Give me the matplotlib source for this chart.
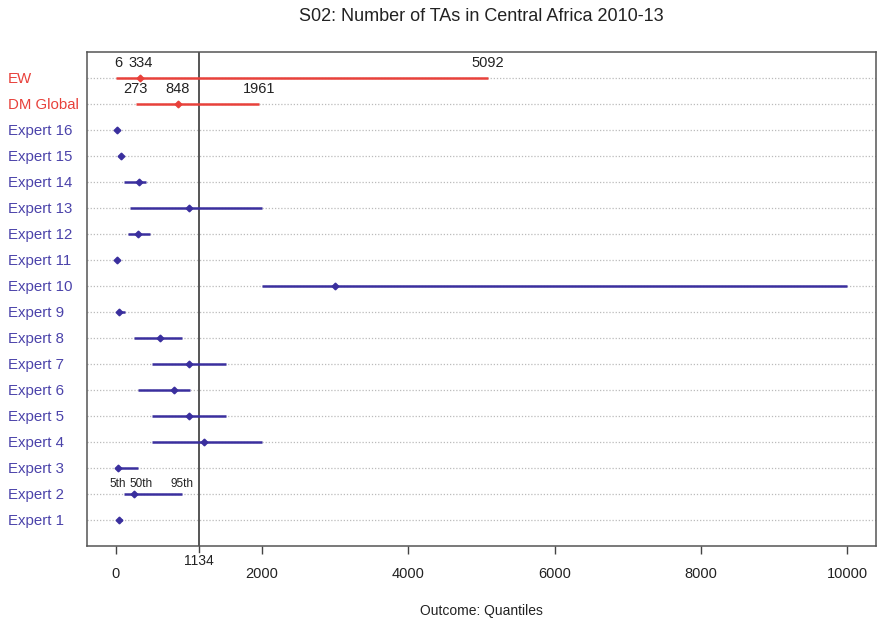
import matplotlib
matplotlib.use("Agg")
import matplotlib.pyplot as plt

plt.rcParams['font.family'] = ['Liberation Sans', 'DejaVu Sans']

# Rows from bottom to top
labels = ['Expert 1', 'Expert 2', 'Expert 3', 'Expert 4', 'Expert 5', 'Expert 6',
          'Expert 7', 'Expert 8', 'Expert 9', 'Expert 10', 'Expert 11', 'Expert 12',
          'Expert 13', 'Expert 14', 'Expert 15', 'Expert 16', 'DM Global', 'EW']
q05 = [30, 110, 10, 500, 500, 310, 500, 255, 20, 2000, 10, 165, 200, 115, 50, 5, 273, 6]
q50 = [50, 250, 25, 1200, 1000, 800, 1000, 600, 40, 3000, 20, 300, 1000, 320, 70, 14, 848, 334]
q95 = [80, 900, 300, 2000, 1500, 1010, 1500, 900, 120, 10000, 40, 465, 2000, 410, 90, 25, 1961, 5092]
realization = 1134

red = '#e8413b'
blue = '#3a2f9e'
label_blue = '#4b43aa'

fig = plt.figure(figsize=(8.78, 6.21), dpi=100)
ax = fig.add_axes([0.0991, 0.1208, 0.8986, 0.7955])

rows = list(range(1, len(labels) + 1))
for y, lo, mid, hi, name in zip(rows, q05, q50, q95, labels):
    col = red if name in ('EW', 'DM Global') else blue
    ax.plot([-400, 10400], [y, y], color='#bbbbbb', lw=0.9, ls=(0, (1, 1.5)), zorder=1)
    ax.plot([lo, hi], [y, y], color=col, lw=1.8, solid_capstyle='butt', zorder=3)
    ax.plot(mid, y, marker='D', ms=3.4, color=col, mec=col, zorder=4)

# quantile values for the two decision makers
ew, dm = len(labels), len(labels) - 1
for y in (ew, dm):
    for v in (q05[y - 1], q50[y - 1], q95[y - 1]):
        ax.text(v, y + 0.3, f'{v}', ha='center', va='bottom', fontsize=10.5, color='#222222')
# "6" sits a little right of its point
ax.texts[0].set_x(q05[ew - 1] + 30)

# quantile legend above Expert 2
for v, t in zip((q05[1] - 90, q50[1] + 90, q95[1]), ('5th', '50th', '95th')):
    ax.text(v, 2 + 0.17, t, ha='center', va='bottom', fontsize=8.5, color='#222222')

ax.axvline(realization, color='#555555', lw=1.4, zorder=2)

ax.set_xlim(-394, 10394)
ax.set_ylim(0, 19)
ax.set_yticks(rows)
ax.set_yticklabels(labels, fontsize=10.8)
for tl in ax.get_yticklabels():
    tl.set_color(red if tl.get_text() in ('EW', 'DM Global') else label_blue)
    tl.set_horizontalalignment('left')
ax.tick_params(axis='y', length=0, pad=57)

ax.set_xticks([0, 2000, 4000, 6000, 8000, 10000])
ax.tick_params(axis='x', length=6, width=1, color='#444444', labelsize=10.5, pad=9,
               labelcolor='#222222')
ax.text(realization, -0.32, f'{realization}', ha='center', va='top', fontsize=10,
        color='#222222', clip_on=False)
ax.plot([realization, realization], [0, -0.25], color='#444444', lw=1, clip_on=False)

for s in ax.spines.values():
    s.set_color('#555555')
    s.set_linewidth(1.1)

ax.set_title('S02: Number of TAs in Central Africa 2010-13', fontsize=13, pad=22,
             color='#222222')
ax.set_xlabel('Outcome: Quantiles', fontsize=10, labelpad=17, color='#222222')

fig.savefig('out.png', dpi=100)
